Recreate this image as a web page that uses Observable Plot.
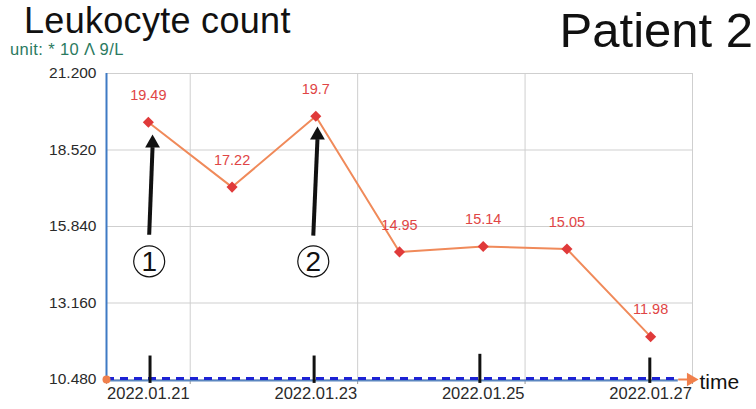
<!DOCTYPE html>
<html>
<head>
<meta charset="utf-8">
<script src="https://cdn.jsdelivr.net/npm/d3@7"></script>
<script src="https://cdn.jsdelivr.net/npm/@observablehq/plot@0.6"></script>
<style>
  html, body { margin: 0; padding: 0; background: #fff; }
  #wrap { position: relative; width: 756px; height: 409px; overflow: hidden; font-family: "Liberation Sans", Arial, sans-serif; }
  #wrap svg { position: absolute; left: 0; top: 0; overflow: visible; }
  .title { position: absolute; left: 24px; top: 0px; font-size: 36px; line-height: 1.15; color: #111; white-space: nowrap; letter-spacing: 0.3px; }
  .unit { position: absolute; left: 10px; top: 40px; font-size: 16.5px; line-height: 1.15; color: #2b7a5f; white-space: nowrap; letter-spacing: 0.4px; }
  .patient { position: absolute; right: 3px; top: 2px; font-size: 49px; line-height: 1.15; color: #111; white-space: nowrap; }
</style>
</head>
<body>
<div id="wrap">
  <div class="title">Leukocyte count</div>
  <div class="unit">unit: * 10 Λ 9/L</div>
  <div class="patient">Patient 2</div>
</div>
<script>
// ---- data ----
const dates = ["2022.01.21", "2022.01.22", "2022.01.23", "2022.01.24", "2022.01.25", "2022.01.26", "2022.01.27"];
const values = [19.49, 17.22, 19.7, 14.95, 15.14, 15.05, 11.98];
const yTicks = [10.48, 13.16, 15.84, 18.52, 21.2];
const xLabelIdx = [0, 2, 4, 6];
// annotations (hand-drawn): arrows with circled numbers
const annLabels = ["1", "2"];
const annTailX = [0.01, 1.97];
const annTipX = [0.05, 2.02];
const annTailY = [15.55, 15.52];
const annTipY = [18.62, 18.9];
const annCircleY = [14.62, 14.62];
// hand-drawn marks on the time axis
const markX = [0.02, 1.98, 3.96, 5.99];
const markTop = [11.32, 11.32, 11.38, 11.25];
const markBottom = [10.36, 10.36, 10.36, 10.36];

const pts = dates.map((d, i) => ({i, date: d, v: values[i]}));
const arrows = annLabels.map((l, k) => ({l, x1: annTailX[k], x2: annTipX[k], y1: annTailY[k], y2: annTipY[k], cy: annCircleY[k]}));
const marks = markX.map((x, k) => ({x, y1: markTop[k], y2: markBottom[k]}));
const gridXPos = xLabelIdx.map(i => i + 0.5);
const xMin = -0.5, xMax = dates.length - 0.5;
const base = yTicks[0];

const chart = Plot.plot({
  width: 756,
  height: 409,
  marginLeft: 106,
  marginRight: 64,
  marginTop: 73,
  marginBottom: 30,
  style: {fontFamily: "Liberation Sans, Arial, sans-serif", color: "#333", background: "transparent", overflow: "visible"},
  x: {domain: [xMin, xMax], axis: null},
  y: {domain: [yTicks[0], yTicks[yTicks.length - 1]], axis: null},
  marks: [
    Plot.gridY(yTicks, {stroke: "#cfcfcf", strokeOpacity: 1, strokeWidth: 1}),
    Plot.gridX(gridXPos, {stroke: "#cfcfcf", strokeOpacity: 1, strokeWidth: 1}),
    Plot.axisY(yTicks, {tickSize: 0, tickPadding: 10, tickFormat: d3.format(".3f"), fontSize: 15.5, fill: "#2a2a2a", label: null}),
    Plot.axisX([xMin, ...gridXPos], {tickSize: 5, stroke: "#999", text: null, label: null}),
    Plot.axisX(xLabelIdx, {tickSize: 0, tickPadding: 8, tickFormat: i => dates[i], fontSize: 16.5, fill: "#2a2a2a", label: null}),
    // axis lines
    Plot.ruleX([xMin], {y1: base, y2: yTicks[yTicks.length - 1], stroke: "#3f7ac4", strokeWidth: 2}),
    Plot.ruleY([base], {x1: xMin, x2: xMax - 0.17, stroke: "#5a86c0", strokeWidth: 2, dy: 1}),
    // dashed baseline
    Plot.ruleY([base], {x1: xMin, x2: xMax - 0.17, stroke: "#1c22d4", strokeWidth: 3, strokeDasharray: "8,6", dy: -1}),
    // orange time arrow
    Plot.link([0], {x1: xMax - 0.17, x2: xMax - 0.05, y1: base, y2: base, stroke: "#f0804c", strokeWidth: 2}),
    Plot.dot([0], {x: xMax - 0.02, y: base, symbol: "triangle", r: 5, fill: "#f0804c", stroke: "none", rotate: 90}),
    Plot.text(["time"], {x: xMax, y: base, text: d => d, dx: 7, dy: 3, textAnchor: "start", fontSize: 21, fill: "#111"}),
    Plot.dot([0], {x: xMin, y: base, r: 4, fill: "#f0804c", stroke: "none"}),
    // hand-drawn marks
    Plot.link(marks, {x1: "x", x2: "x", y1: "y1", y2: "y2", stroke: "#111", strokeWidth: 3}),
    // series
    Plot.line(pts, {x: "i", y: "v", stroke: "#f08a5a", strokeWidth: 2}),
    Plot.dot(pts, {x: "i", y: "v", symbol: "diamond2", r: 5, fill: "#e03a3a", stroke: "none"}),
    Plot.text(pts, {x: "i", y: "v", text: d => String(d.v), dy: -27, fontSize: 14.5, fill: "#e04545"}),
    // annotation arrows
    Plot.link(arrows, {x1: "x1", x2: "x2", y1: "y1", y2: "y2", stroke: "#111", strokeWidth: 4}),
    Plot.dot(arrows, {x: "x2", y: "y2", symbol: "triangle", r: 5.5, fill: "#111", stroke: "none", dy: -4}),
    Plot.dot(arrows, {x: "x1", y: "cy", r: 15.5, fill: "#fff", stroke: "#111", strokeWidth: 1.2}),
    Plot.text(arrows, {x: "x1", y: "cy", text: "l", fontSize: 28, fill: "#111", dy: 1})
  ]
});
document.getElementById("wrap").prepend(chart);
</script>
</body>
</html>
